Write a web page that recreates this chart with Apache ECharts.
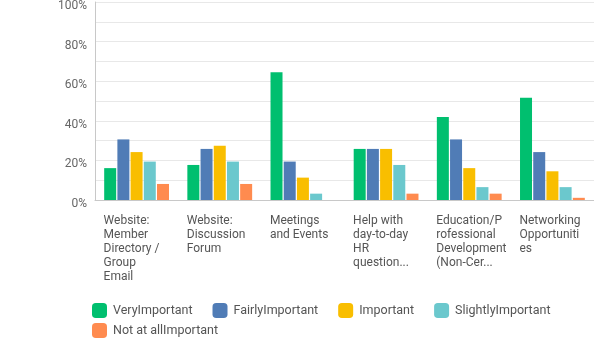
<!DOCTYPE html>
<html><head><meta charset="utf-8">
<script src="https://cdn.jsdelivr.net/npm/echarts@6/dist/echarts.min.js"></script>
<style>html,body{margin:0;padding:0;background:#fff}#c{width:594px;height:350px}</style>
</head><body><div id="c"></div>
<script>
var categories = [
  'Website:\nMember\nDirectory /\nGroup\nEmail',
  'Website:\nDiscussion\nForum',
  'Meetings\nand Events',
  'Help with\nday-to-day\nHR\nquestion...',
  'Education/P\nrofessional\nDevelopment\n(Non-Cer...',
  'Networking\nOpportuniti\nes'
];
var yTickLabels = ['0%', '20%', '40%', '60%', '80%', '100%'];
var seriesNames = ['VeryImportant', 'FairlyImportant', 'Important', 'SlightlyImportant', 'Not at allImportant'];
var veryImportant = [16.1, 17.7, 64.5, 25.8, 41.9, 51.6];
var fairlyImportant = [30.6, 25.8, 19.4, 25.8, 30.6, 24.2];
var important = [24.2, 27.4, 11.3, 25.8, 16.1, 14.5];
var slightlyImportant = [19.4, 19.4, 3.2, 17.7, 6.5, 6.5];
var notAtAllImportant = [8.1, 8.1, 0, 3.2, 3.2, 1.1];
var colors = ['#00BF6F', '#507CB6', '#F9BE00', '#6BC8CD', '#FF8B4F'];

var values = [veryImportant, fairlyImportant, important, slightlyImportant, notAtAllImportant];
var font = 'Roboto';
var legendCommon = {
  itemWidth: 15, itemHeight: 15, itemGap: 20, padding: 0,
  icon: 'roundRect', orient: 'horizontal',
  textStyle: {fontFamily: font, fontSize: 12.5, color: '#555', padding: [0, 0, 0, 1]}
};
var chart = echarts.init(document.getElementById('c'), null, {renderer: 'canvas'});
chart.setOption({
  animation: false,
  color: colors,
  textStyle: {fontFamily: font},
  grid: {left: 95, right: 0, top: 0, bottom: 150, containLabel: false},
  legend: [
    Object.assign({left: 92, top: 303, data: seriesNames.slice(0, 4)}, legendCommon),
    Object.assign({left: 92, top: 323, data: seriesNames.slice(4)}, legendCommon)
  ],
  xAxis: {
    type: 'category',
    data: categories,
    axisLine: {lineStyle: {color: '#c8c8c8', width: 1}},
    axisTick: {show: false},
    axisLabel: {
      interval: 0, margin: 14, align: 'left',
      padding: [0, 0, 0, -33],
      fontFamily: font, fontSize: 12, lineHeight: 14, color: '#555'
    }
  },
  yAxis: {
    type: 'value', min: 0, max: 100, interval: 10,
    axisLine: {show: true, lineStyle: {color: '#c8c8c8', width: 1}},
    axisTick: {show: false},
    splitLine: {lineStyle: {color: '#e8e8e8', width: 1}},
    axisLabel: {
      margin: 8, fontFamily: font, fontSize: 12, color: '#666',
      verticalAlign: 'top', padding: [-2, 0, 0, 0],
      formatter: function (v) { return v % 20 === 0 ? yTickLabels[v / 20] : ''; }
    }
  },
  series: seriesNames.map(function (n, i) {
    return {name: n, type: 'bar', data: values[i], barWidth: 12, barGap: '10%'};
  })
});
</script></body></html>
